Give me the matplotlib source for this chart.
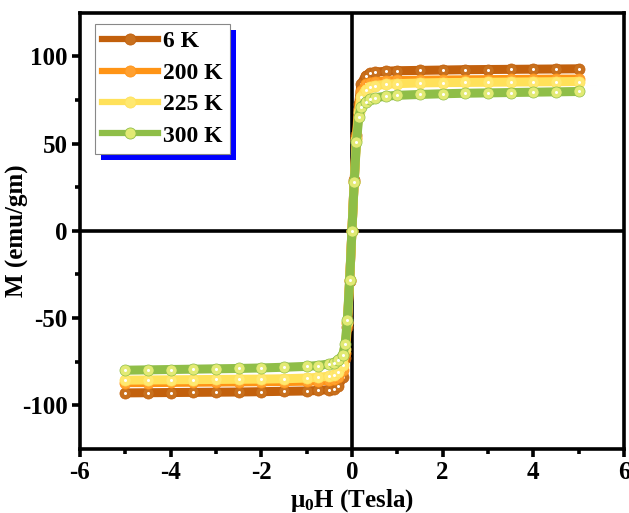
import matplotlib
matplotlib.use("Agg")
import matplotlib.pyplot as plt
from matplotlib.lines import Line2D
from matplotlib.patches import Rectangle

plt.rcParams['font.family'] = ['Liberation Serif', 'DejaVu Serif']
plt.rcParams['font.weight'] = 'bold'
plt.rcParams['axes.unicode_minus'] = False
plt.rcParams['mathtext.fontset'] = 'custom'
plt.rcParams['mathtext.rm'] = 'Liberation Serif:bold'
plt.rcParams['mathtext.it'] = 'Liberation Serif:bold'
plt.rcParams['mathtext.bf'] = 'Liberation Serif:bold'

# field (Tesla)
H = [-5, -4.5, -4, -3.5, -3, -2.5, -2, -1.5, -1, -0.75, -0.5, -0.4, -0.3, -0.2, -0.15, -0.1, -0.05,
     0, 0.05, 0.1, 0.15, 0.2, 0.3, 0.4, 0.5, 0.75, 1, 1.5, 2, 2.5, 3, 3.5, 4, 4.5, 5]

# magnetisation (emu/gm)
M_6K = [-92.9, -92.8, -92.7, -92.6, -92.5, -92.4, -92.2, -92, -91.8, -91.5, -91, -90.5, -89, -84, -73, -55, -29,
        0, 29, 55, 73, 84, 89, 90.5, 91, 91.5, 91.8, 92, 92.2, 92.4, 92.5, 92.6, 92.7, 92.8, 92.9]
M_200K = [-87, -87, -86.9, -86.8, -86.7, -86.6, -86.5, -86.4, -86.2, -86, -85.6, -85, -84, -80, -70, -53, -28,
          0, 28, 53, 70, 80, 84, 85, 85.6, 86, 86.2, 86.4, 86.5, 86.6, 86.7, 86.8, 86.9, 87, 87]
M_225K = [-85.6, -85.5, -85.4, -85.3, -85.2, -85.1, -85, -84.8, -84.4, -84, -83.3, -82.5, -81, -77, -68, -52, -28,
          0, 28, 52, 68, 77, 81, 82.5, 83.3, 84, 84.4, 84.8, 85, 85.1, 85.2, 85.3, 85.4, 85.5, 85.6]
M_300K = [-79.9, -79.7, -79.5, -79.3, -79.1, -78.9, -78.6, -78.2, -77.7, -77.2, -76.3, -75.5, -74, -71, -65, -51, -28,
          0, 28, 51, 65, 71, 74, 75.5, 76.3, 77.2, 77.7, 78.2, 78.6, 78.9, 79.1, 79.3, 79.5, 79.7, 79.9]

labels = ['6 K', '200 K', '225 K', '300 K']
series = [M_6K, M_200K, M_225K, M_300K]
line_cols = ['#C2600C', '#FF9416', '#FFE15A', '#8FBE48']
mark_cols = ['#C8701E', '#FFA030', '#FFE870', '#E2EA74']

fig = plt.figure(figsize=(6.29, 5.13), dpi=100)
ax = fig.add_axes([0.127, 0.125, 0.865, 0.850])

ax.axhline(0, color='black', lw=2.6, zorder=1)
ax.axvline(0, color='black', lw=2.6, zorder=1)

handles = []
for M, lab, lc, mc in zip(series, labels, line_cols, mark_cols):
    ax.plot(H, M, color=lc, lw=6.5, solid_capstyle='round', solid_joinstyle='round', zorder=2)
    ax.plot(H, M, 'o', color=mc, ms=8, mec=lc, mew=0.5, zorder=2)
    ax.plot(H, M, 'o', color='white', ms=2.2, mew=0, zorder=2)
    handles.append(Line2D([], [], color=lc, lw=4.5, marker='o', ms=8,
                          mfc=mc, mec=lc, mew=0.6, label=lab))

ax.set_xlim(-6, 6)
ax.set_ylim(-125, 125)
ax.set_xticks([-6, -4, -2, 0, 2, 4, 6])
ax.set_xticks([-5, -3, -1, 1, 3, 5], minor=True)
ax.set_yticks([-100, -50, 0, 50, 100])
ax.set_yticks([-75, -25, 25, 75], minor=True)
for s in ax.spines.values():
    s.set_linewidth(2.6)
ax.tick_params(which='major', direction='out', length=6, width=2.6, labelsize=18, pad=3)
ax.tick_params(which='minor', direction='out', length=3.5, width=2.6)
for t in ax.get_xticklabels() + ax.get_yticklabels():
    t.set_fontweight('bold')

ax.set_xlabel('μ$_0$H (Tesla)', fontsize=18, fontweight='bold', va='top')
ax.xaxis.set_label_coords(0.5, -0.088)
ax.set_ylabel('M (emu/gm)', fontsize=18, fontweight='bold')
ax.yaxis.set_label_coords(-0.094, 0.5)

leg = ax.legend(handles=handles, loc='upper left', bbox_to_anchor=(0.027, 0.975),
                borderaxespad=0, prop={'weight': 'bold', 'size': 17},
                handlelength=2.4, handletextpad=0.2, labelspacing=0.42,
                borderpad=0.3, fancybox=False, edgecolor='#888888', framealpha=1,
                numpoints=1)
leg.get_frame().set_linewidth(0.8)
leg.set_zorder(5)

fig.canvas.draw()
bb = leg.get_window_extent()
shadow = Rectangle((bb.x0 + 6, bb.y0 - 6), bb.width, bb.height, transform=None,
                   facecolor='blue', edgecolor='none', zorder=4.9)
ax.add_artist(shadow)

fig.savefig('out.png', dpi=100)
